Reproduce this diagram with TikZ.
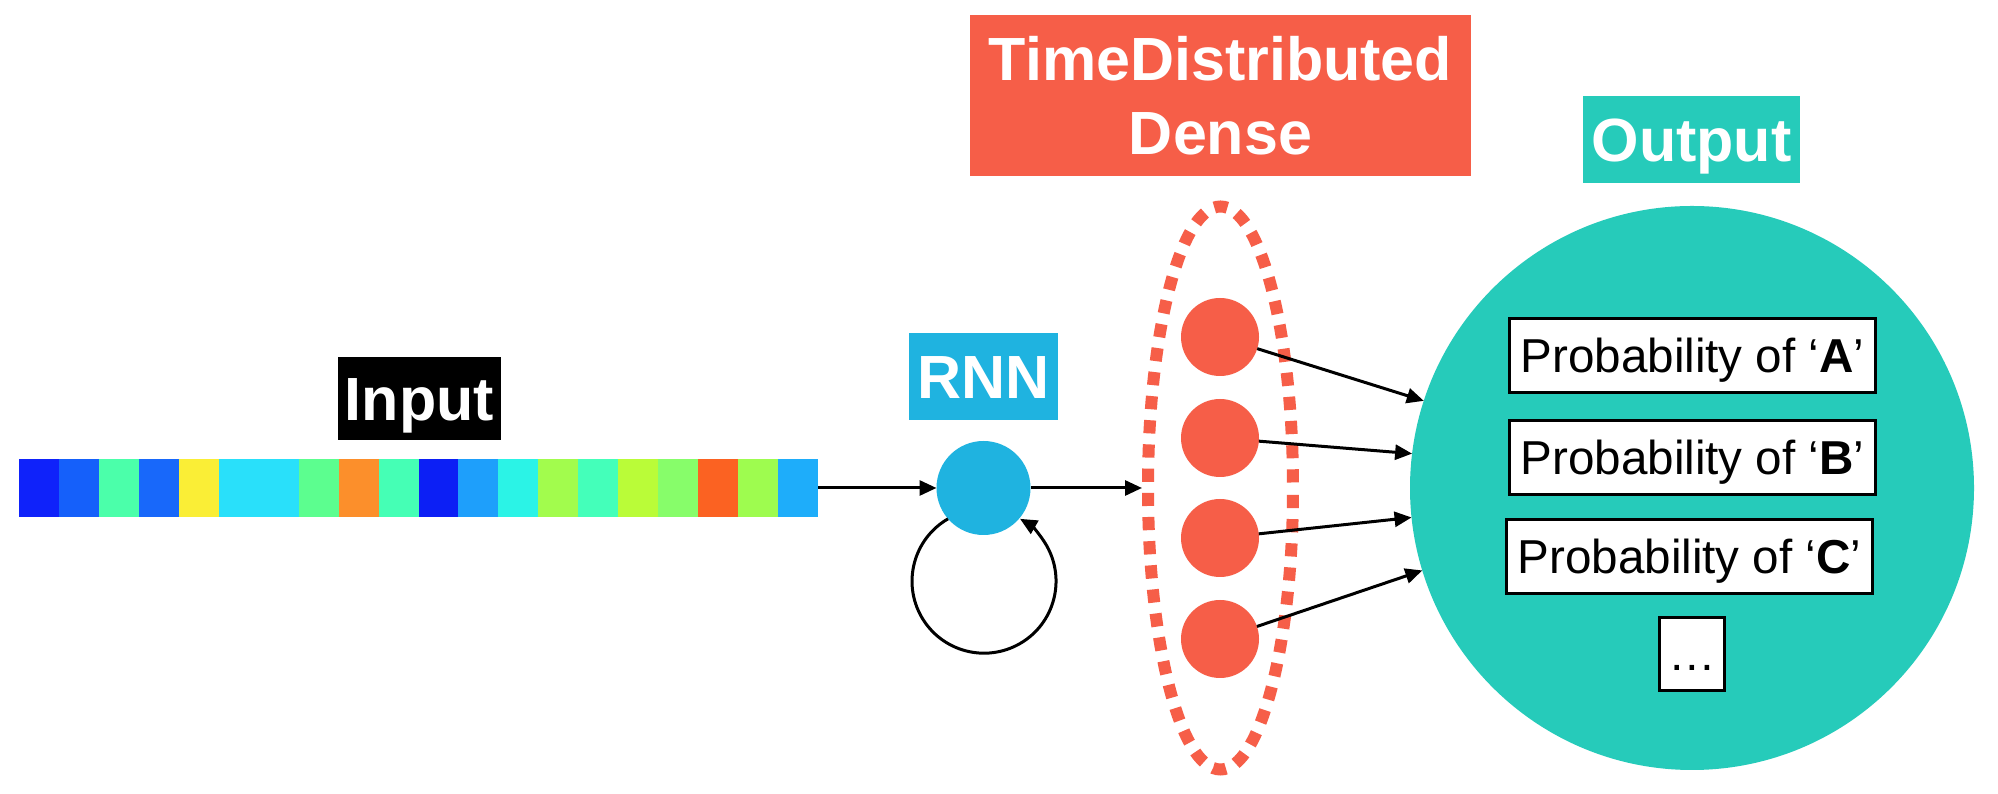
\documentclass[tikz,border=0pt]{standalone}
\usepackage{fontspec}
\setmainfont{Liberation Sans}
\usetikzlibrary{arrows.meta,shapes.geometric}
\definecolor{rnnblue}{RGB}{31,179,224}
\definecolor{tdred}{RGB}{246,94,72}
\definecolor{outteal}{RGB}{38,203,186}
\begin{document}
\begin{tikzpicture}[x=1pt,y=1pt,
  lbl/.style={font=\fontsize{61}{73.5}\selectfont\bfseries, text=white, inner sep=0pt, text height=43.7pt, text depth=0pt},
  conn/.style={line width=3pt, -{Triangle[length=17pt,width=15pt]}},
  pbox/.style={draw=black, line width=3pt, fill=white, inner sep=0pt, minimum height=74pt,
    font=\fontsize{47.6}{57}\selectfont, text height=34pt, text depth=0pt},
  unit/.style={circle, fill=tdred, minimum size=78pt, inner sep=0pt, outer sep=0pt}]
\useasboundingbox (0,0) rectangle (1998,794);
\fill[white] (0,0) rectangle (1998,794);
% input label
\node[lbl, fill=black, minimum width=163pt, minimum height=83pt] (inlbl) at (419.5,395.5) {Input};
% input strip
\node[minimum width=799pt, minimum height=58pt, inner sep=0pt, outer sep=0pt] (strip) at (418.5,306) {};
\foreach \h [count=\i from 0] in {0F22FA,1560FA,4BFFAA,1868FA,FAEE36,29E0FA,29E0FA,5CFE8F,FC8F2B,45FFB5,0C1FF5,1E9FFB,2BF3E6,A2FC4D,44FFBA,BAFC38,87FD6A,FB6222,9EFC4F,1EADFA}{
  \definecolor{cellc}{HTML}{\h}
  \fill[cellc] ({19+\i*39.95},277) rectangle ({19+(\i+1)*39.95+ifthenelse(\i<19,0.6,0)},335);
}
% RNN
\node[circle, fill=rnnblue, minimum size=94pt, inner sep=0pt, outer sep=0pt] (rnn) at (983.5,306) {};
\node[lbl, fill=rnnblue, minimum width=149pt, minimum height=87pt] (rnnlbl) at (983.5,417.5) {RNN};
\draw[conn] (strip.east) -- (rnn.west);
\draw[conn] (rnn.221.5) arc[start angle=120, end angle=420, radius=72];
% TimeDistributed Dense
\node[fill=tdred, text=white, font=\fontsize{61}{73.5}\selectfont\bfseries, align=center,
  minimum width=501pt, minimum height=161pt, inner sep=0pt] (tdlbl) at (1220.5,698.5) {TimeDistributed\\Dense};
\node[ellipse, draw=tdred, line width=12pt, dash pattern=on 13.2pt off 11pt, dash phase=18.7pt,
  minimum width=145pt, minimum height=563pt, inner sep=0pt] (td) at (1220.5,306) {};
\draw[conn] (rnn.east) -- (td.west);
\node[unit] (o1) at (1220,457) {};
\node[unit] (o2) at (1220,356) {};
\node[unit] (o3) at (1220,256) {};
\node[unit] (o4) at (1220,155) {};
% Output
\node[lbl, fill=outteal, minimum width=217pt, minimum height=87pt] (outlbl) at (1691.5,654.5) {Output};
\node[circle, fill=outteal, minimum size=564pt, inner sep=0pt, outer sep=0pt] (out) at (1692,306) {};
\draw[conn] (o1) -- (out.162.4);
\draw[conn] (o2) -- (out.173.9);
\draw[conn] (o3) -- (out.186);
\draw[conn] (o4) -- (out.197.7);
\node[pbox, minimum width=366pt] (pa) at (1692.5,438.5) {Probability of ‘\textbf{A}’};
\node[pbox, minimum width=366pt] (pb) at (1692.5,336.5) {Probability of ‘\textbf{B}’};
\node[pbox, minimum width=366pt] (pc) at (1689.5,237.5) {Probability of ‘\textbf{C}’};
\node[pbox, minimum width=65pt, minimum height=73pt] (pd) at (1692,140) {…};
\end{tikzpicture}
\end{document}
